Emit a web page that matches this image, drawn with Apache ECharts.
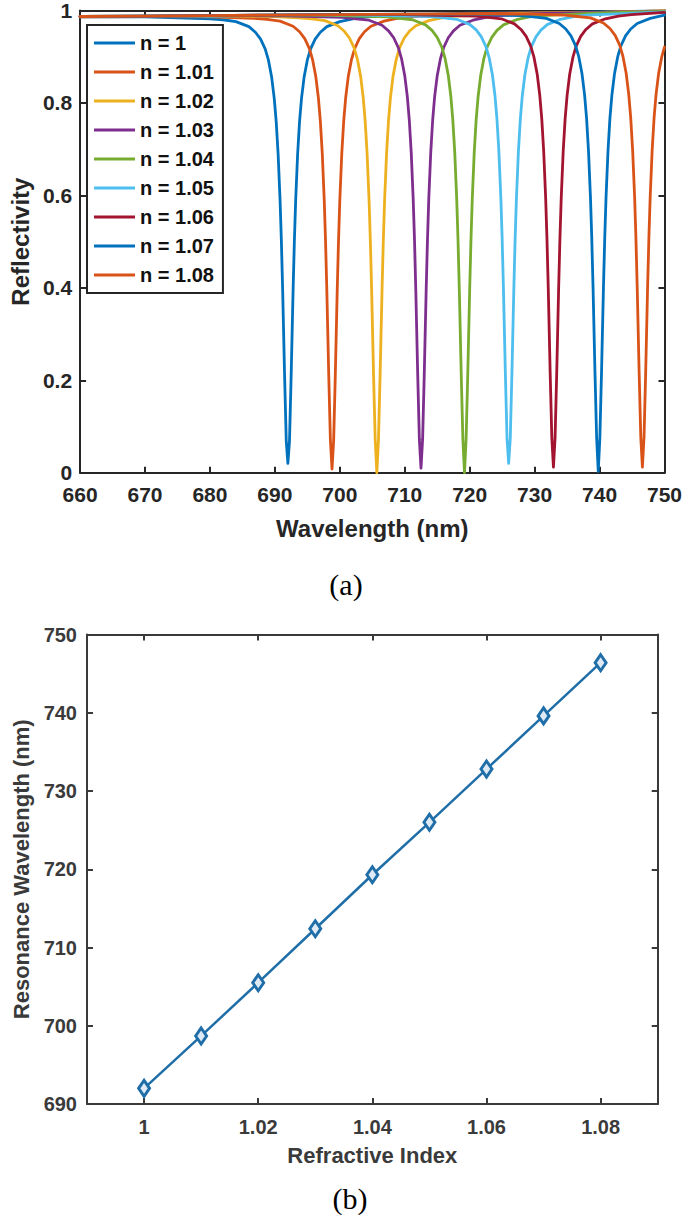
<!DOCTYPE html>
<html>
<head>
<meta charset="utf-8">
<script src="https://cdn.jsdelivr.net/npm/echarts@6/dist/echarts.min.js"></script>
<style>
html,body{margin:0;padding:0;background:#fff;}
#chart{width:685px;height:1215px;}
</style>
</head>
<body>
<div id="chart"></div>
<script>
// ---------- Panel (a): reflectivity spectra ----------
const seriesNames = ['n = 1','n = 1.01','n = 1.02','n = 1.03','n = 1.04','n = 1.05','n = 1.06','n = 1.07','n = 1.08'];
const seriesColors = ['#0072BD','#D95319','#EDB120','#7E2F8E','#77AC30','#4DBEEE','#A2142F','#0072BD','#D95319'];
const xTicksA = [660,670,680,690,700,710,720,730,740,750];
const yTicksA = [0,0.2,0.4,0.6,0.8,1];

const wl_n100 = [660,670,680,682,684,686,687,687.8,688.5,689,689.5,689.9,690.2,690.5,690.8,691.0,691.2,691.5,691.75,692.0,692.25,692.5,692.8,693.0,693.2,693.5,693.8,694.1,694.5,695.0,695.5,696.2,697.0,698.0,700.0,702,704,710,720,730,740,750];
const r_n100  = [0.986,0.986,0.982,0.980,0.976,0.965,0.953,0.938,0.917,0.893,0.856,0.810,0.760,0.689,0.589,0.501,0.393,0.207,0.069,0.020,0.069,0.207,0.393,0.501,0.589,0.689,0.760,0.810,0.856,0.893,0.917,0.938,0.953,0.965,0.976,0.982,0.986,0.990,0.994,0.995,0.997,0.999];

const wl_n101 = [660,670,680,686.8,688.8,690.8,692.8,693.8,694.6,695.3,695.8,696.3,696.7,697.0,697.3,697.6,697.8,698.0,698.3,698.55,698.8,699.05,699.3,699.6,699.8,700.0,700.3,700.6,700.9,701.3,701.8,702.3,703.0,703.8,704.8,706.8,708.8,710.8,720,730,740,750];
const r_n101  = [0.986,0.987,0.986,0.983,0.981,0.977,0.966,0.954,0.939,0.918,0.894,0.857,0.811,0.761,0.690,0.590,0.502,0.394,0.208,0.070,0.008,0.070,0.208,0.394,0.502,0.590,0.690,0.761,0.811,0.857,0.894,0.918,0.939,0.954,0.966,0.977,0.983,0.986,0.993,0.995,0.996,0.999];

const wl_n102 = [660,670,680,690,693.7,695.7,697.7,699.7,700.7,701.5,702.2,702.7,703.2,703.6,703.9,704.2,704.5,704.7,704.9,705.2,705.45,705.7,705.95,706.2,706.5,706.7,706.9,707.2,707.5,707.8,708.2,708.7,709.2,709.9,710.7,711.7,713.7,715.7,717.7,730,740,750];
const r_n102  = [0.987,0.987,0.988,0.987,0.984,0.982,0.978,0.967,0.955,0.940,0.919,0.895,0.858,0.812,0.762,0.691,0.591,0.503,0.395,0.209,0.071,0.000,0.071,0.209,0.395,0.503,0.591,0.691,0.762,0.812,0.858,0.895,0.919,0.940,0.955,0.967,0.978,0.984,0.988,0.994,0.996,0.999];

const wl_n103 = [660,670,680,690,700.5,702.5,704.5,706.5,707.5,708.3,709.0,709.5,710.0,710.4,710.7,711.0,711.3,711.5,711.7,712.0,712.25,712.5,712.75,713.0,713.3,713.5,713.7,714.0,714.3,714.6,715.0,715.5,716.0,716.7,717.5,718.5,720.5,722.5,724.5,730,740,750];
const r_n103  = [0.987,0.987,0.988,0.989,0.985,0.982,0.979,0.968,0.956,0.941,0.920,0.896,0.859,0.813,0.763,0.692,0.592,0.504,0.396,0.210,0.072,0.010,0.072,0.210,0.396,0.504,0.592,0.692,0.763,0.813,0.859,0.896,0.920,0.941,0.956,0.968,0.979,0.985,0.989,0.993,0.996,0.998];

const wl_n104 = [660,670,680,690,700,707.2,709.2,711.2,713.2,714.2,715.0,715.7,716.2,716.7,717.1,717.4,717.7,718.0,718.2,718.4,718.7,718.95,719.2,719.45,719.7,720.0,720.2,720.4,720.7,721.0,721.3,721.7,722.2,722.7,723.4,724.2,725.2,727.2,729.2,731.2,740,750];
const r_n104  = [0.987,0.988,0.988,0.990,0.989,0.986,0.983,0.980,0.969,0.957,0.942,0.921,0.897,0.860,0.814,0.764,0.693,0.593,0.505,0.397,0.211,0.073,0.000,0.073,0.211,0.397,0.505,0.593,0.693,0.764,0.814,0.860,0.897,0.921,0.942,0.957,0.969,0.980,0.986,0.989,0.995,0.998];

const wl_n105 = [660,670,680,690,700,714,716,718,720,721,721.8,722.5,723,723.5,723.9,724.2,724.5,724.8,725.0,725.2,725.5,725.75,726.0,726.25,726.5,726.8,727.0,727.2,727.5,727.8,728.1,728.5,729.0,729.5,730.2,731.0,732.0,734.0,736,738,750];
const r_n105  = [0.987,0.988,0.988,0.990,0.991,0.987,0.984,0.981,0.970,0.958,0.943,0.922,0.898,0.861,0.815,0.765,0.694,0.594,0.506,0.398,0.212,0.074,0.020,0.074,0.212,0.398,0.506,0.594,0.694,0.765,0.815,0.861,0.898,0.922,0.943,0.958,0.970,0.981,0.987,0.990,0.997];

const wl_n106 = [660,670,680,690,700,710,720.9,722.9,724.9,726.9,727.9,728.7,729.4,729.9,730.4,730.8,731.1,731.4,731.7,731.9,732.1,732.4,732.65,732.9,733.15,733.4,733.7,733.9,734.1,734.4,734.7,735.0,735.4,735.9,736.4,737.1,737.9,738.9,740.9,742.9,744.9,750];
const r_n106  = [0.987,0.988,0.989,0.990,0.991,0.991,0.988,0.985,0.982,0.971,0.959,0.944,0.923,0.899,0.862,0.816,0.766,0.695,0.595,0.507,0.399,0.213,0.075,0.012,0.075,0.213,0.399,0.507,0.595,0.695,0.766,0.816,0.862,0.899,0.923,0.944,0.959,0.971,0.982,0.988,0.991,0.996];

const wl_n107 = [660,670,680,690,700,710,720,727.8,729.8,731.8,733.8,734.8,735.6,736.3,736.8,737.3,737.7,738.0,738.3,738.6,738.8,739.0,739.3,739.55,739.8,740.05,740.3,740.6,740.8,741.0,741.3,741.6,741.9,742.3,742.8,743.3,744.0,744.8,745.8,747.8,750];
const r_n107  = [0.987,0.988,0.989,0.990,0.991,0.992,0.992,0.989,0.986,0.983,0.972,0.960,0.945,0.924,0.900,0.863,0.817,0.767,0.696,0.596,0.508,0.400,0.214,0.076,0.003,0.076,0.214,0.400,0.508,0.596,0.696,0.767,0.817,0.863,0.900,0.924,0.945,0.960,0.972,0.983,0.990];

const wl_n108 = [660,670,680,690,700,710,720,730,734.6,736.6,738.6,740.6,741.6,742.4,743.1,743.6,744.1,744.5,744.8,745.1,745.4,745.6,745.8,746.1,746.35,746.6,746.85,747.1,747.4,747.6,747.8,748.1,748.4,748.7,749.1,749.6,750];
const r_n108  = [0.987,0.988,0.989,0.990,0.991,0.992,0.993,0.992,0.990,0.987,0.984,0.973,0.961,0.946,0.925,0.901,0.864,0.818,0.768,0.697,0.597,0.509,0.401,0.215,0.077,0.012,0.077,0.215,0.401,0.509,0.597,0.697,0.768,0.818,0.864,0.901,0.921];

const wavelengthSets = [wl_n100,wl_n101,wl_n102,wl_n103,wl_n104,wl_n105,wl_n106,wl_n107,wl_n108];
const reflectSets    = [r_n100,r_n101,r_n102,r_n103,r_n104,r_n105,r_n106,r_n107,r_n108];

// ---------- Panel (b): resonance wavelength vs refractive index ----------
const refractiveIndex = [1,1.01,1.02,1.03,1.04,1.05,1.06,1.07,1.08];
const resonanceWavelength = [692.0,698.7,705.5,712.4,719.3,726.0,732.8,739.6,746.4];
const xTicksB = [1,1.02,1.04,1.06,1.08];
const yTicksB = [690,700,710,720,730,740,750];

const FONT = '"Liberation Sans", Arial, sans-serif';
const AX = '#262626';
const AXB = '#3a3a3a';

function frameAxis(extra, color){
  return Object.assign({
    type:'value',
    axisLine:{show:true,onZero:false,lineStyle:{color:color,width:2}},
    axisTick:{show:true,inside:true,length:6,lineStyle:{color:color,width:2}},
    splitLine:{show:false},
    axisLabel:{show:false}
  }, extra);
}

const chart = echarts.init(document.getElementById('chart'), null, {renderer:'svg', width:685, height:1215});

const topSeries = seriesNames.map((name,i)=>({
  name:name,
  type:'line',
  xAxisIndex:0, yAxisIndex:0,
  data: wavelengthSets[i].map((x,j)=>[x, reflectSets[i][j]]),
  symbol:'none',
  smooth:false,
  color: seriesColors[i],
  lineStyle:{color:seriesColors[i], width:2.8, join:'round', cap:'round'},
  animation:false
}));

const option = {
  animation:false,
  backgroundColor:'#ffffff',
  grid:[
    {left:69.5, top:7.5, width:599.5, height:465.2},
    {left:87, top:634.5, width:570.7, height:469.5}
  ],
  xAxis:[
    frameAxis({gridIndex:0, position:'bottom', min:660, max:750, interval:10,
      axisLabel:{show:true, color:AX, fontSize:21, fontWeight:'bold', fontFamily:FONT, margin:11},
      name:'Wavelength (nm)', nameLocation:'middle', nameGap:44,
      nameTextStyle:{color:AX, fontSize:24, fontWeight:'bold', fontFamily:FONT}
    }, AX),
    frameAxis({gridIndex:0, position:'top', min:660, max:750, interval:10}, AX),
    frameAxis({gridIndex:1, position:'bottom', min:0.99, max:1.09,
      axisTick:{show:true,inside:true,length:6,lineStyle:{color:AXB,width:2},customValues:xTicksB},
      axisLabel:{show:true, color:AXB, fontSize:20, fontWeight:'bold', fontFamily:FONT, margin:13, customValues:xTicksB,
        formatter:v=>String(+v.toFixed(2))},
      name:'Refractive Index', nameLocation:'middle', nameGap:40,
      nameTextStyle:{color:AXB, fontSize:22, fontWeight:'bold', fontFamily:FONT}
    }, AXB),
    frameAxis({gridIndex:1, position:'top', min:0.99, max:1.09,
      axisTick:{show:true,inside:true,length:6,lineStyle:{color:AXB,width:2},customValues:xTicksB},
      axisLabel:{show:false, customValues:xTicksB}
    }, AXB)
  ],
  yAxis:[
    frameAxis({gridIndex:0, position:'left', min:0, max:1, interval:0.2,
      axisLabel:{show:true, color:AX, fontSize:21, fontWeight:'bold', fontFamily:FONT, margin:8},
      name:'Reflectivity', nameLocation:'middle', nameGap:42,
      nameTextStyle:{color:AX, fontSize:24, fontWeight:'bold', fontFamily:FONT}
    }, AX),
    frameAxis({gridIndex:0, position:'right', min:0, max:1, interval:0.2}, AX),
    frameAxis({gridIndex:1, position:'left', min:690, max:750, interval:10,
      axisLabel:{show:true, color:AXB, fontSize:20, fontWeight:'bold', fontFamily:FONT, margin:10},
      name:'Resonance Wavelength (nm)', nameLocation:'middle', nameGap:52,
      nameTextStyle:{color:AXB, fontSize:22, fontWeight:'bold', fontFamily:FONT}
    }, AXB),
    frameAxis({gridIndex:1, position:'right', min:690, max:750, interval:10}, AXB)
  ],
  legend:{
    data:seriesNames,
    orient:'vertical',
    left:87, top:25,
    padding:[8,9,8,7],
    icon:'rect',
    itemWidth:41, itemHeight:3, itemGap:9,
    borderColor:AX, borderWidth:2, backgroundColor:'#ffffff',
    selectedMode:false,
    textStyle:{color:'#111', fontSize:20, fontWeight:'bold', fontFamily:FONT, lineHeight:20}
  },
  graphic:[
    {type:'text', x:346, y:584, style:{text:'(a)', fill:'#000', fontSize:30, fontFamily:'"Liberation Serif", "Times New Roman", serif', align:'center', verticalAlign:'middle'}},
    {type:'text', x:350, y:1198, style:{text:'(b)', fill:'#000', fontSize:30, fontFamily:'"Liberation Serif", "Times New Roman", serif', align:'center', verticalAlign:'middle'}}
  ],
  series: topSeries.concat([{
    name:'Resonance',
    type:'line',
    xAxisIndex:2, yAxisIndex:2,
    data: refractiveIndex.map((x,i)=>[x, resonanceWavelength[i]]),
    symbol:'diamond',
    symbolSize:[11,16],
    showSymbol:true,
    itemStyle:{color:'#dfeaf5', borderColor:'#1f6ea8', borderWidth:3},
    lineStyle:{color:'#1f6ea8', width:2.5},
    animation:false
  }])
};
chart.setOption(option);
</script>
</body>
</html>
